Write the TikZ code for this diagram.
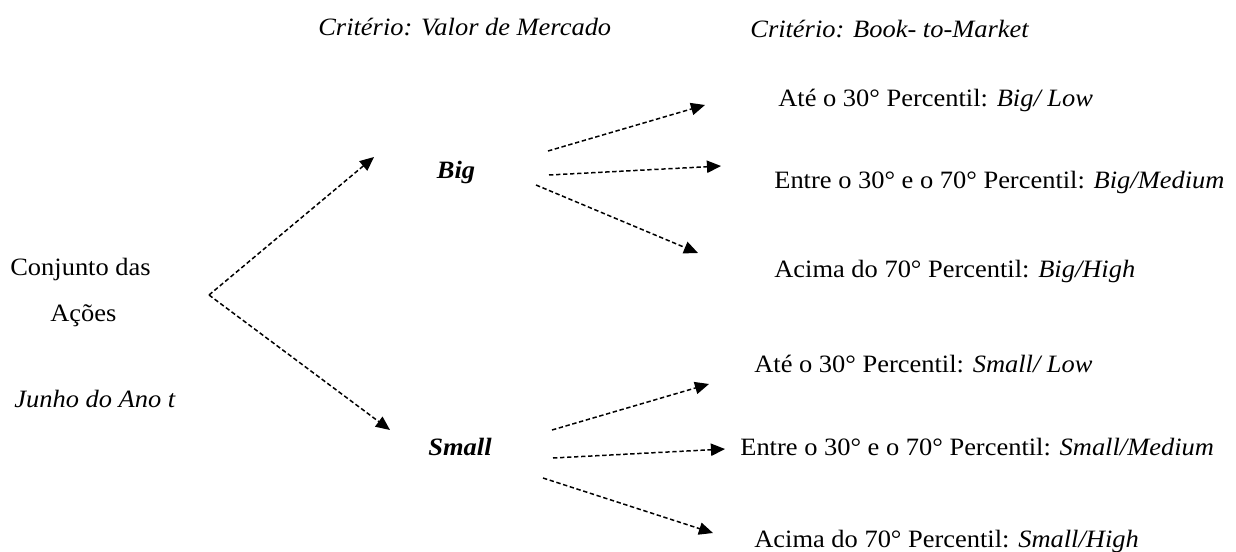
\documentclass[tikz,border=0pt]{standalone}
\usepackage{fontspec}
\setmainfont{Liberation Serif}[FakeStretch=1.06]
\usetikzlibrary{arrows.meta}
\begin{document}
\begin{tikzpicture}[x=0.02cm, y=-0.02cm,
      every node/.style={inner sep=0pt, anchor=base west, font=\fontsize{14.2}{17}\selectfont},
      ramo/.style={anchor=base, font=\fontsize{14.2}{17}\selectfont\bfseries\itshape},
      seta/.style={line width=0.85pt, dash pattern=on 2.5pt off 1.5pt,
        -{Triangle[length=8pt, width=7pt]}},]
    \useasboundingbox (0,0) rectangle (1236,551);
    % criterios
    \node (crit1) at (318,35) {\textit{Critério: Valor de Mercado}};
    \node (crit2) at (750,37) {\textit{Critério: Book- to-Market}};
    % conjunto inicial
    \node (conj) at (10,275) {Conjunto das};
    \node (acoes) at (50,321) {Ações};
    \node (junho) at (14,407) {\textit{Junho do Ano t}};
    \coordinate (fork) at (209,295);
    % tamanho
    \node[ramo] (big) at (456,178) {Big};
    \node[ramo] (small) at (460,455) {Small};
    % book-to-market
    \node (bl) at (778,106) {Até o 30° Percentil: \textit{Big/ Low}};
    \node (bm) at (774,188) {Entre o 30° e o 70° Percentil: \textit{Big/Medium}};
    \node (bh) at (774,277) {Acima do 70° Percentil: \textit{Big/High}};
    \node (sl) at (754,372) {Até o 30° Percentil: \textit{Small/ Low}};
    \node (sm) at (740,455) {Entre o 30° e o 70° Percentil: \textit{Small/Medium}};
    \node (sh) at (754,547) {Acima do 70° Percentil: \textit{Small/High}};
    % setas
    \draw[seta] (fork) -- ([shift={(-82,-21)}]big.base);
    \draw[seta] (fork) -- ([shift={(-70,-25)}]small.base);
    \draw[seta] ([shift={(92,-27)}]big.base) -- ([shift={(-73,-1)}]bl.base west);
    \draw[seta] ([shift={(93,-3)}]big.base) -- ([shift={(-53,-22)}]bm.base west);
    \draw[seta] ([shift={(80,7)}]big.base) -- ([shift={(-76,-24)}]bh.base west);
    \draw[seta] ([shift={(92,-25)}]small.base) -- ([shift={(-45,12)}]sl.base west);
    \draw[seta] ([shift={(93,3)}]small.base) -- ([shift={(-15,-6)}]sm.base west);
    \draw[seta] ([shift={(83,23)}]small.base) -- ([shift={(-41,-14)}]sh.base west);
\end{tikzpicture}
\end{document}
